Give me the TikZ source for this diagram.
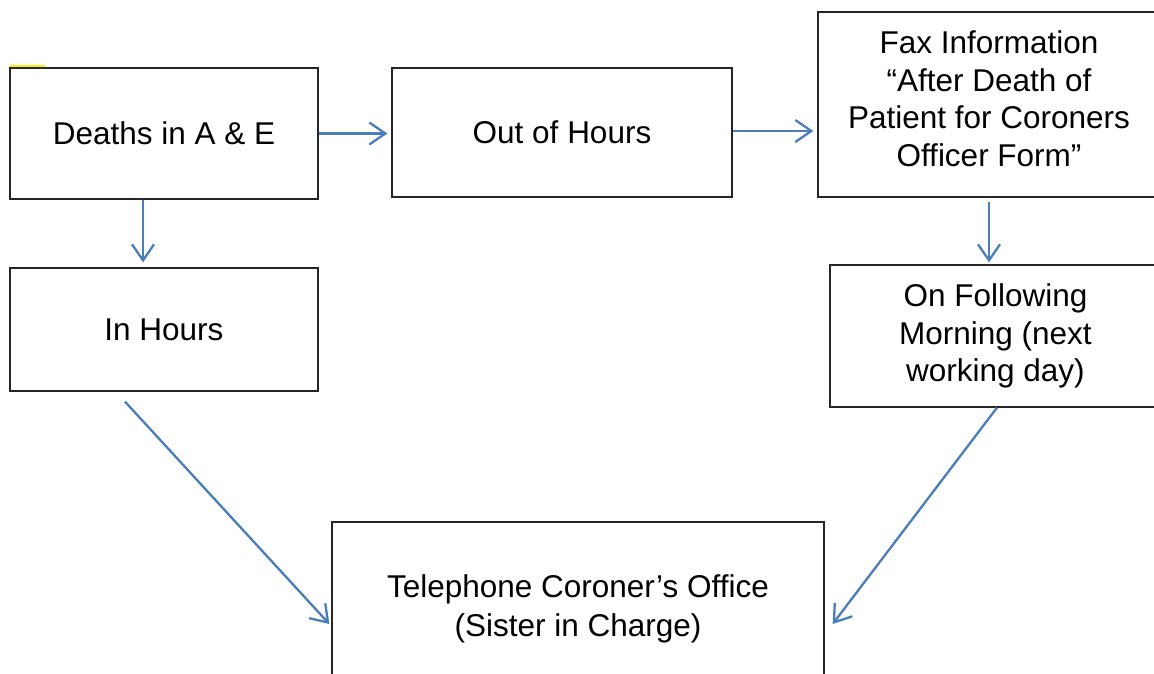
\documentclass[tikz,border=0pt]{standalone}
\usepackage{fontspec}
\setmainfont{Liberation Sans}
\usepackage{tikz}
\usetikzlibrary{arrows.meta, calc}
\definecolor{FlowBlue}{RGB}{74,126,187}
\definecolor{MarkYellow}{RGB}{255,240,0}

\begin{document}
\begin{tikzpicture}[x=1pt, y=-1pt,
          box/.style={rectangle, draw=black!85, line width=1.3pt, fill=white,
                      inner sep=0pt, align=center,
                      font=\fontsize{31.5}{37.5}\selectfont},
          boxtext/.style={align=center, font=\fontsize{31.5}{37.5}\selectfont},
          arr/.style={-{Straight Barb[length=16pt, width=22pt]},
                      line width=2.3pt, FlowBlue}
        ]
        \useasboundingbox (0,0) rectangle (1154,673);
        \clip (0,0) rectangle (1154,673);
        \fill[white] (0,0) rectangle (1154,673);

        % small highlight mark above the first box
        \fill[MarkYellow] (10,65) rectangle (45,67.5);

        % Boxes
        \node[box, minimum width=308pt, minimum height=131pt] (dae) at (164,133.5) {Deaths in A \& E};
        \node[box, minimum width=340pt, minimum height=129pt] (ooh) at (562,132.5) {Out of Hours};
        \node[box, minimum width=342pt, minimum height=185pt] (fax) at (989,104.5) {};
        \node[boxtext] (faxtxt) at ([yshift=6pt]fax.center)
              {Fax Information\\“After Death of\\Patient for Coroners\\Officer Form”};
        \node[box, minimum width=308pt, minimum height=123pt] (inh) at (164,329.5) {\raisebox{-3pt}{In Hours}};
        \node[box, minimum width=331pt, minimum height=142pt] (nfm) at (995.5,336)
              {On Following\\Morning (next\\working day)};
        \node[box, minimum width=492pt, minimum height=170pt] (tel) at (578,607) {};
        \node[boxtext, font=\fontsize{31.5}{39.5}\selectfont] (teltxt) at ([yshift=-2pt]tel.center)
              {Telephone Coroner’s Office\\(Sister in Charge)};

        % Across the top
        \draw[arr, shorten >=4pt] (dae.east) -- (dae.east -| ooh.west);
        \draw[arr, shorten >=4pt] ([yshift=1.5pt]ooh.east) -- ([yshift=1.5pt]ooh.east -| fax.west);

        % Downwards
        \draw[arr, shorten >=5pt] ([xshift=-21pt]dae.south) -- ([xshift=-21pt]inh.north);
        \draw[arr, shorten <=4pt, shorten >=2pt] (fax.south) -- (fax.south |- nfm.north);

        % Into the telephone box
        \draw[arr] ([shift={(-39pt,-10pt)}]inh.south) -- ([shift={(-2pt,-17pt)}]tel.west);
        \draw[arr] ([xshift=1.5pt]nfm.south) -- ([shift={(8pt,-17pt)}]tel.east);
      \end{tikzpicture}
\end{document}
